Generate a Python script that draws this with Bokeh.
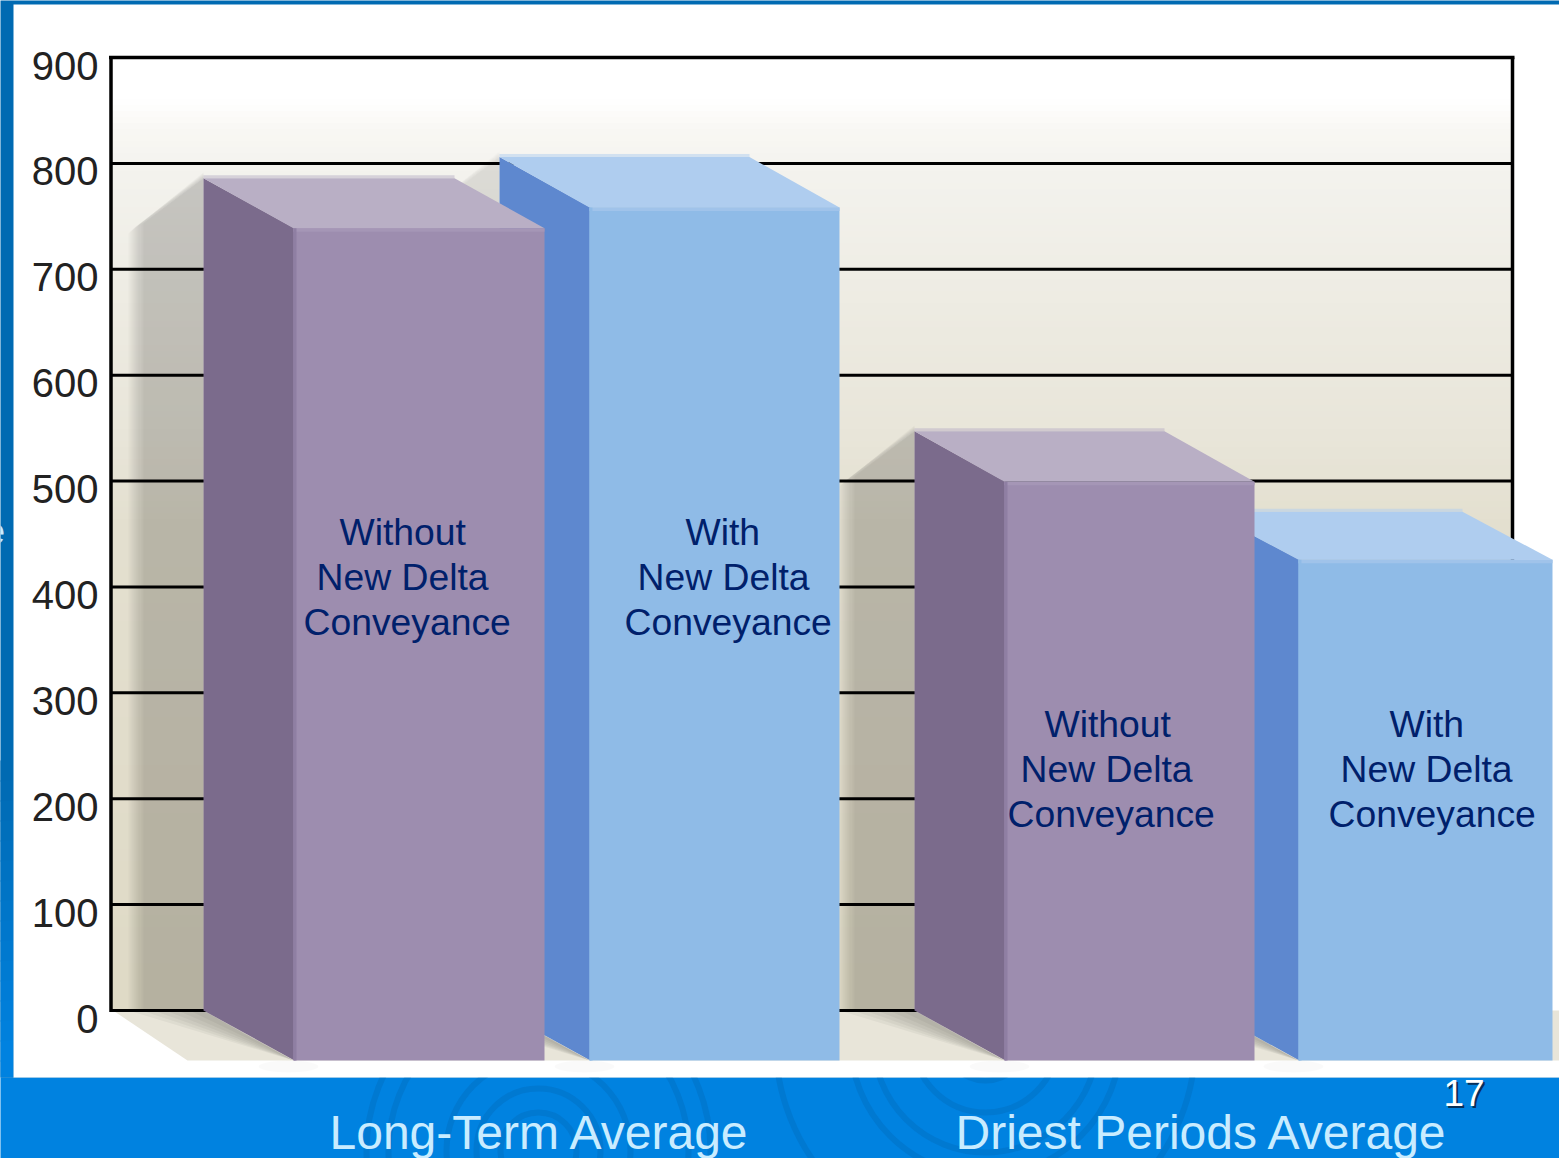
import numpy as np
from bokeh.plotting import figure
from bokeh.models import Range1d, LinearAxis, FixedTicker
from bokeh.core.properties import value
from bokeh.embed import file_html
from bokeh.resources import INLINE

# ---- data
tick_values = [0, 100, 200, 300, 400, 500, 600, 700, 800, 900]
bar_values = [786, 806, 547, 471]
bar_groups = ["Long-Term Average", "Driest Periods Average"]
label_with = ["With", "New Delta", "Conveyance"]
label_without = ["Without", "New Delta", "Conveyance"]
page_number = "17"

# ---- layout of the picture
W, H = 1559, 1158
Y0_PX, PX_PER_UNIT = 1010.0, 953.0 / 900.0
def vy(px):
    return (Y0_PX - px) / PX_PER_UNIT

p = figure(width=W, height=H, output_backend="svg", toolbar_location=None,
           x_range=Range1d(0, W), y_range=Range1d(vy(H), vy(0)),
           min_border_left=0, min_border_right=0, min_border_top=0, min_border_bottom=0,
           x_axis_location=None, y_axis_location=None,
           background_fill_color=None, border_fill_color="#006ab2", outline_line_color=None)
p.styles = {"position": "absolute", "left": "0px", "top": "0px"}
p.grid.visible = False

# ---- blue slide frame
p.quad(left=-5, right=W + 5, top=vy(1077), bottom=vy(H + 5), fill_color="#0082e0", line_color=None)
for cx, cy, rs in [(538, 1150, [38, 62, 92, 150, 172]), (985, 1040, [40, 72, 112, 135, 210])]:
    for r in rs:
        p.arc(x=[cx], y=[vy(cy)], radius=r, start_angle=0, end_angle=2 * np.pi,
              line_color="#0075cb", line_width=6, line_alpha=0.7)
p.quad(left=-5, right=W + 5, top=vy(-5), bottom=vy(1077), fill_color="#006ab2", line_color=None)
c0, c1 = np.array([0, 0x6a, 0xb2]), np.array([0, 0x82, 0xe0])
steps = np.arange(760, 1081, 20)
for a, b in zip(steps[:-1], steps[1:]):
    cc = (c0 + (c1 - c0) * min((a - 760) / 280, 1)).astype(int)
    p.quad(left=-5, right=13, top=vy(float(a)), bottom=vy(min(float(b) + 1, 1077)), fill_color="#%02x%02x%02x" % tuple(cc), line_color=None)
p.quad(left=13, right=W + 5, top=vy(4), bottom=vy(1077), fill_color="white", line_color=None)
p.text(x=[-16], y=[vy(530)], text=["e"], text_font=value("Liberation Sans"), text_font_size="37px",
       text_color="#c9ecff", text_baseline="middle")

# ---- chart wall: vertical gradient
FR_L, FR_R, FR_T = 110.5, 1512.0, 57.0
stops_px = [57, 100, 130, 170, 300, 430, 520, 1010]
stops_c = np.array([[255, 255, 255], [255, 255, 255], [249, 248, 244], [244, 243, 238],
                    [238, 236, 227], [233, 230, 218], [228, 224, 208], [223, 218, 198]], float)
edges = np.arange(57, 1011, 6.0)
edges[-1] = 1010
cols = []
for e in edges[:-1]:
    rgb = [int(np.interp(e + 3, stops_px, stops_c[:, i])) for i in range(3)]
    cols.append("#%02x%02x%02x" % tuple(rgb))
p.quad(left=FR_L, right=FR_R, top=vy(edges[:-1]), bottom=vy(edges[1:]), fill_color=cols, line_color=cols, line_width=1)

# floor
p.patch(x=[FR_L + 2, 187, W + 5, W + 5], y=[0, vy(1060), vy(1060), 0], fill_color="#e8e5d9", line_color=None)

# ---- bar geometry
front_left = [293, 589, 1004, 1298]
front_width = [251, 250, 250, 254]
DX, DV = 90, 50 / PX_PER_UNIT
top_depth = [50 / PX_PER_UNIT, 50.5 / PX_PER_UNIT, 50.5 / PX_PER_UNIT, 48 / PX_PER_UNIT]
front_c = ["#9d8daf", "#8fbbe7", "#9d8daf", "#8fbbe7"]
side_c = ["#7b6b8c", "#5e88cf", "#7b6b8c", "#5e88cf"]
top_c = ["#b9afc5", "#afcdef", "#b9afc5", "#afcdef"]
band_c = ["#a596b6", "#a0c3ea", "#a596b6", "#a0c3ea"]
strip_c = ["#8f7fa3", "#8fbbe7", "#8f7fa3", "#8fbbe7"]

# wall shadows: stacked translucent layers give a soft edge
layers = [(75, 6, 10), (73, 5, 8), (71, 4, 6), (69, 3, 4), (67, 2, 3), (65, 1, 2), (62, 0, 1), (60, 0, 0)]
for i, al in [(0, 0.024), (1, 0.012), (2, 0.024)]:
    bl = front_left[i] - DX
    v = bar_values[i]
    for w, up, down in layers:
        p.patch(x=[bl, bl - w, bl - w, bl],
                y=[v + up / PX_PER_UNIT, v - (45 + down) / PX_PER_UNIT, 0, 0],
                fill_color="black", fill_alpha=al, line_color=None)
# floor shadows
for i in range(4):
    bl = front_left[i] - DX
    for s in [75, 62, 50, 38, 26, 14]:
        p.patch(x=[bl, front_left[i], bl - s], y=[0, -DV, 0], fill_color="black", fill_alpha=0.04, line_color=None)
    p.ellipse(x=[front_left[i] - 5], y=[vy(1066)], width=60, height=12 / PX_PER_UNIT,
              fill_color="black", fill_alpha=0.02, line_color=None)

# grid and frame
grid_ticks = np.array(tick_values[:-1], float)
p.segment(x0=FR_L, x1=FR_R, y0=grid_ticks, y1=grid_ticks, line_color="black", line_width=3)
p.segment(x0=[FR_L, FR_R, FR_L - 2], x1=[FR_L, FR_R, FR_R + 2], y0=[vy(FR_T), vy(FR_T), vy(FR_T)],
          y1=[-1.5 / PX_PER_UNIT, 0, vy(FR_T)], line_color="black", line_width=3.5)

# bars: back ones first so that the nearer bar of each pair hides them
for i in [1, 0, 3, 2]:
    fl, fw, v = front_left[i], front_width[i], bar_values[i]
    fr = fl + fw
    td = top_depth[i]
    p.patch(x=[fl - DX, fl + 1, fl + 1, fl - DX], y=[v, v - td, -DV, 0], fill_color=side_c[i], line_color=None)
    p.patch(x=[fl - DX, fr - DX, fr, fl], y=[v, v, v - td, v - td], fill_color=top_c[i], line_color=None)
    p.quad(left=fl - DX, right=fr - DX, top=v + 3 / PX_PER_UNIT, bottom=v, fill_color=top_c[i],
           fill_alpha=0.5, line_color=None)
    p.quad(left=fl, right=fr, top=v - td, bottom=-DV, fill_color=front_c[i], line_color=None)
    p.quad(left=fl, right=fr, top=v - td, bottom=v - td - 3.5 / PX_PER_UNIT, fill_color=band_c[i], line_color=None)
    p.quad(left=fl, right=fl + 3, top=v - td, bottom=-DV, fill_color=strip_c[i], line_color=None)

# bar labels
line_y = [[531, 576, 621], [531, 576, 621], [723, 768, 813], [723, 768, 813]]
line_x = [[339, 316, 303], [685, 637, 624], [1044, 1020, 1007], [1389, 1340, 1328]]
bar_lines = [label_without, label_with, label_without, label_with]
for i in range(4):
    p.text(x=line_x[i], y=[vy(a) for a in line_y[i]], text=bar_lines[i], text_font=value("Liberation Sans"),
           text_font_size="37.3px", text_color="#00206b", text_align="left", text_baseline="middle")

# group labels and page number
for s, x in zip(bar_groups, [329, 955]):
    p.text(x=[x], y=[vy(1132)], text=[s], text_font=value("Liberation Sans"), text_font_size="48px",
           text_color="#c9ecff", text_align="left", text_baseline="middle")
p.text(x=[1445, 1443], y=[vy(1094), vy(1092)], text=[page_number, page_number], text_font=value("Liberation Sans"),
       text_font_size="37px", text_color=["#06305a", "white"], text_align="left", text_baseline="middle")

# y axis, labels sit slightly under their grid lines as in the picture
LABEL_SHIFT = 8
p.extra_y_ranges = {"labels": Range1d((Y0_PX + LABEL_SHIFT - H) / PX_PER_UNIT, (Y0_PX + LABEL_SHIFT) / PX_PER_UNIT)}
ax = LinearAxis(y_range_name="labels", ticker=FixedTicker(ticks=tick_values), axis_line_color=None,
                major_tick_line_color=None, minor_tick_line_color=None, major_tick_in=0, major_tick_out=0,
                major_label_standoff=2, major_label_text_font="Liberation Sans",
                major_label_text_font_size="40px", major_label_text_color="#222222", fixed_location=100)
p.add_layout(ax, "left")

open("out.html", "w").write(file_html(p, INLINE))
